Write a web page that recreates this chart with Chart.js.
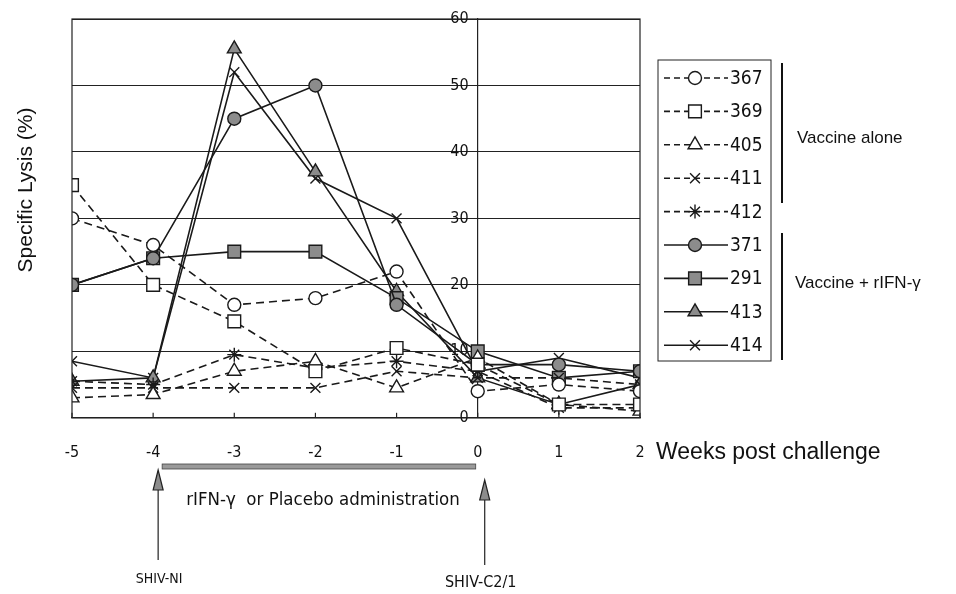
<!DOCTYPE html>
<html>
<head>
<meta charset="utf-8">
<title>Specific lysis</title>
<script src="https://cdn.jsdelivr.net/npm/chart.js@4.4.0/dist/chart.umd.min.js"></script>
<style>
  html, body { margin: 0; padding: 0; background: #fff; }
  #wrap { width: 956px; height: 594px; position: relative; }
</style>
</head>
<body>
<div id="wrap"><canvas id="lysisChart"></canvas></div>
<script>
// weeks relative to SHIV-C2/1 challenge
const weeks = [-5, -4, -3, -2, -1, 0, 1, 2];

// vaccine alone (dashed, open markers)
const m367 = [30, 26, 17, 18, 22, 4, 5, 4];
const m369 = [35, 20, 14.5, 7, 10.5, 8, 2, 2];
const m405 = [3, 3.5, 7, 8.5, 4.5, 9, 2, 1];
const m411 = [4.5, 4.5, 4.5, 4.5, 7, 6, 6, 5];
const m412 = [5.5, 5, 9.5, 7.5, 8.5, 7, 1.5, 1.5];

// vaccine + rIFN-gamma (solid, filled markers)
const m371 = [20, 24, 45, 50, 17, 8, 8, 7];
const m291 = [20, 24, 25, 25, 18, 10, 6, 7];
const m413 = [5.5, 6, 55.5, 37, 19, 6, 2, 5];
const m414 = [8.5, 6, 52, 36, 30, 7, 9, 6];

const FONT_NARROW = '"DejaVu Sans Condensed", "Liberation Sans Narrow", "DejaVu Sans", sans-serif';
const FONT_SANS = '"Liberation Sans", Arial, sans-serif';
const GREY = '#8c8c8c';
const RADIUS = { circle: 6.5, rect: 9, triangle: 8, crossRot: 7, star: 7 };

function series(label, values, style, dashed) {
  return {
    label: label,
    data: weeks.map((w, i) => ({ x: w, y: values[i] })),
    borderColor: '#1a1a1a',
    borderWidth: 1.6,
    borderDash: dashed ? [8, 5] : [],
    pointStyle: style,
    pointRadius: RADIUS[style],
    pointBorderColor: '#1a1a1a',
    pointBorderWidth: 1.4,
    pointBackgroundColor: dashed ? '#ffffff' : GREY,
    tension: 0,
    fill: false
  };
}

// frame, legend, group brackets and the treatment timeline below the axis
const extras = {
  id: 'extras',
  afterDraw(chart) {
    const { ctx, chartArea: a, scales: { x } } = chart;
    const line = (x1, y1, x2, y2) => { ctx.beginPath(); ctx.moveTo(x1, y1); ctx.lineTo(x2, y2); ctx.stroke(); };
    ctx.save();

    ctx.strokeStyle = '#222';
    ctx.lineWidth = 1.2;
    ctx.strokeRect(a.left, a.top, a.right - a.left, a.bottom - a.top);
    weeks.forEach(w => { const px = x.getPixelForValue(w); line(px, a.bottom, px, a.bottom - 5); });

    // legend
    const lx = 658, ly = 60, lw = 113, lh = 301, row = 33.4;
    ctx.lineWidth = 1;
    ctx.strokeRect(lx, ly, lw, lh);
    chart.data.datasets.forEach((ds, i) => {
      const cy = ly + 18 + i * row;
      ctx.strokeStyle = '#1a1a1a';
      ctx.lineWidth = 1.6;
      ctx.setLineDash(ds.borderDash.length ? [6, 4] : []);
      line(lx + 6, cy, lx + 70, cy);
      ctx.setLineDash([]);
      ctx.fillStyle = ds.pointBackgroundColor;
      ctx.lineWidth = 1.4;
      Chart.helpers.drawPoint(ctx, { pointStyle: ds.pointStyle, radius: ds.pointRadius, borderWidth: 1.4, rotation: 0 }, lx + 37, cy);
      ctx.fillStyle = '#111';
      ctx.font = '19px ' + FONT_NARROW;
      ctx.textAlign = 'left';
      ctx.textBaseline = 'middle';
      ctx.fillText(ds.label, lx + 72, cy + 1);
    });

    // group brackets
    ctx.strokeStyle = '#111';
    ctx.lineWidth = 2;
    line(782, 63, 782, 203);
    line(782, 233, 782, 360);
    ctx.fillStyle = '#111';
    ctx.font = '17px ' + FONT_SANS;
    ctx.textAlign = 'left';
    ctx.textBaseline = 'middle';
    ctx.fillText('Vaccine alone', 797, 138);
    ctx.fillText('Vaccine + rIFN-\u03b3', 795, 283);

    // administration period bar
    const x4 = x.getPixelForValue(-4), x0 = x.getPixelForValue(0);
    ctx.fillStyle = '#9a9a9a';
    ctx.strokeStyle = '#444';
    ctx.lineWidth = 0.8;
    ctx.fillRect(x4 + 9, 464, x0 - x4 - 11, 5);
    ctx.strokeRect(x4 + 9, 464, x0 - x4 - 11, 5);

    // challenge arrows
    const arrow = (ax, tip, tail) => {
      ctx.strokeStyle = '#222';
      ctx.lineWidth = 1.2;
      line(ax, tip + 16, ax, tail);
      ctx.beginPath();
      ctx.moveTo(ax, tip);
      ctx.lineTo(ax - 5, tip + 20);
      ctx.lineTo(ax + 5, tip + 20);
      ctx.closePath();
      ctx.fillStyle = GREY;
      ctx.fill();
      ctx.stroke();
    };
    arrow(x4 + 5, 470, 560);
    arrow(x0 + 7, 480, 565);

    ctx.fillStyle = '#111';
    ctx.textAlign = 'center';
    ctx.font = '18.5px ' + FONT_NARROW;
    ctx.fillText('rIFN-\u03b3  or Placebo administration', 323, 500);
    ctx.font = '14px ' + FONT_NARROW;
    ctx.fillText('SHIV-NI', x4 + 6, 579);
    ctx.font = '16px ' + FONT_NARROW;
    ctx.fillText('SHIV-C2/1', x0 + 3, 583);

    ctx.font = '23px ' + FONT_SANS;
    ctx.textAlign = 'left';
    ctx.fillText('Weeks post challenge', 656, 453);

    ctx.restore();
  }
};

new Chart(document.getElementById('lysisChart'), {
  type: 'line',
  data: {
    datasets: [
      series('367', m367, 'circle', true),
      series('369', m369, 'rect', true),
      series('405', m405, 'triangle', true),
      series('411', m411, 'crossRot', true),
      series('412', m412, 'star', true),
      series('371', m371, 'circle', false),
      series('291', m291, 'rect', false),
      series('413', m413, 'triangle', false),
      series('414', m414, 'crossRot', false)
    ]
  },
  options: {
    responsive: true,
    maintainAspectRatio: false,
    animation: false,
    layout: { padding: { left: 72, right: 316, top: 19, bottom: 115 } },
    plugins: {
      legend: { display: false },
      tooltip: { enabled: false }
    },
    scales: {
      x: {
        type: 'linear',
        min: -5,
        max: 2,
        grid: { display: false },
        border: { display: true, color: '#222', width: 1.2 },
        ticks: {
          stepSize: 1,
          padding: 17,
          color: '#111',
          font: { family: FONT_NARROW, size: 16 }
        }
      },
      y: {
        position: { x: 0 },
        min: 0,
        max: 60,
        grid: { color: '#222', lineWidth: 1, drawTicks: false },
        border: { display: true, color: '#222', width: 1.2 },
        ticks: {
          stepSize: 10,
          padding: 6,
          color: '#111',
          font: { family: FONT_NARROW, size: 16 },
          // keep labels clear of the axis line
          callback: v => v + '  '
        },
        title: { display: false }
      }
    }
  },
  plugins: [extras, {
    id: 'yTitle',
    afterDraw(chart) {
      const { ctx } = chart;
      ctx.save();
      ctx.translate(26, 190);
      ctx.rotate(-Math.PI / 2);
      ctx.fillStyle = '#111';
      ctx.font = '21px ' + FONT_SANS;
      ctx.textAlign = 'center';
      ctx.textBaseline = 'middle';
      ctx.fillText('Specific Lysis (%)', 0, 0);
      ctx.restore();
    }
  }]
});
</script>
</body>
</html>
